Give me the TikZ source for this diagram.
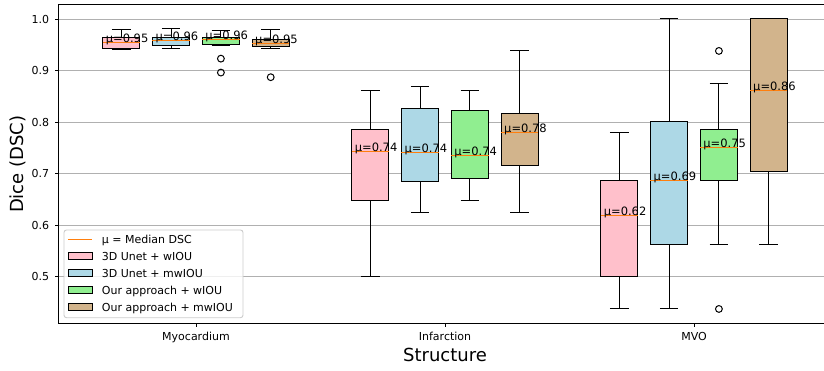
\documentclass[tikz,border=0pt]{standalone}
\usepackage{fontspec}
\setmainfont{DejaVu Sans}

\definecolor{gridgray}{HTML}{B0B0B0}
\definecolor{medorange}{HTML}{FF7F0E}
\definecolor{pinkbox}{HTML}{FFC0CB}
\definecolor{bluebox}{HTML}{ADD8E6}
\definecolor{greenbox}{HTML}{90EE90}
\definecolor{tanbox}{HTML}{D2B48C}
\definecolor{legendedge}{HTML}{CCCCCC}

\begin{document}
\begin{tikzpicture}[
  ticklabel/.style={font=\fontsize{11}{13}\selectfont, inner sep=0pt},
  axislabel/.style={font=\fontsize{18}{21}\selectfont, inner sep=0pt},
  mulabel/.style={font=\fontsize{11.5}{13}\selectfont, inner sep=0pt, anchor=base west},
  legendtext/.style={font=\fontsize{11}{13}\selectfont, inner sep=0pt, anchor=base west},
  spine/.style={black, line width=0.9pt},
  gridline/.style={gridgray, line width=0.9pt},
  whisker/.style={black, line width=1pt},
  boxedge/.style={draw=black, line width=1pt},
  median/.style={medorange, line width=0.8pt},
  flier/.style={draw=black, line width=1pt},
  legendframe/.style={draw=legendedge, line width=0.9pt, fill=white, fill opacity=0.8, rounded corners=2.5pt}
]
  \useasboundingbox (0,0) rectangle (824pt,370pt);

  \begin{scope}[x=249pt, y=515pt, shift={(-53pt,-164pt)}]
  % grid and y ticks
  \foreach \v in {0.5,0.6,0.7,0.8,0.9,1.0} {
    \draw[gridline] (0.448,\v) -- (3.522,\v);
    \draw[spine] (0.434,\v) -- (0.448,\v);
    \node[ticklabel, anchor=east] (ytick\v) at (0.411,\v) {\v};
  }

  % boxes: position / whisker low / q1 / median / q3 / whisker high / colour / label
  \foreach \bx/\wl/\qa/\md/\qb/\wh/\fc/\lab [count=\k] in {
      0.7/0.940/0.943/0.954/0.964/0.980/pinkbox/0.95,
      0.9/0.942/0.948/0.958/0.964/0.981/bluebox/0.96,
      1.1/0.949/0.951/0.960/0.964/0.977/greenbox/0.96,
      1.3/0.942/0.946/0.953/0.9605/0.979/tanbox/0.95,
      1.7/0.500/0.647/0.743/0.786/0.862/pinkbox/0.74,
      1.9/0.625/0.685/0.740/0.827/0.869/bluebox/0.74,
      2.1/0.647/0.691/0.735/0.823/0.861/greenbox/0.74,
      2.3/0.625/0.715/0.780/0.816/0.938/tanbox/0.78,
      2.7/0.437/0.500/0.619/0.687/0.779/pinkbox/0.62,
      2.9/0.437/0.5625/0.687/0.801/1.000/bluebox/0.69,
      3.1/0.5625/0.687/0.750/0.786/0.875/greenbox/0.75,
      3.3/0.5625/0.7035/0.862/1.000/1.000/tanbox/0.86} {
    \draw[whisker] (\bx,\wl) -- (\bx,\qa) (\bx,\qb) -- (\bx,\wh);
    \draw[whisker] (\bx-0.0375,\wl) -- (\bx+0.0375,\wl) (\bx-0.0375,\wh) -- (\bx+0.0375,\wh);
    \filldraw[boxedge, fill=\fc] (\bx-0.075,\qa) rectangle (\bx+0.075,\qb);
    \draw[median] (\bx-0.075,\md) -- (\bx+0.075,\md);
    \node[mulabel] (mu\k) at (\bx-0.063,\md) {μ=\lab};
  }

  % outliers
  \foreach \bx/\v in {1.1/0.923, 1.1/0.896, 1.3/0.887, 3.1/0.938, 3.1/0.437}
    \draw[flier] (\bx,\v) circle [radius=3.4pt];

  % axes
  \draw[spine] (3.522,1.0285) -- (0.448,1.0285) -- (0.448,0.409) -- (3.522,0.409);
  \foreach \gx/\name in {1/Myocardium, 2/Infarction, 3/MVO} {
    \draw[spine] (\gx,0.409) -- (\gx,0.402);
    \node[ticklabel, anchor=base] (xtick\gx) at (\gx,0.3748) {\name};
  }
  \node[axislabel, anchor=base] (xlabel) at (2,0.335) {Structure};
  \node[axislabel, rotate=90] (ylabel) at (0.283,0.718) {Dice (DSC)};
  \end{scope}

  % legend
  \draw[legendframe] (64pt,52.3pt) rectangle (243pt,140pt);
  \draw[median] (68.3pt,131pt) -- (92.3pt,131pt);
  \node[legendtext] (leg0) at (101.7pt,126.7pt) {μ = Median DSC};
  \foreach \fc/\txt [count=\k] in {pinkbox/3D Unet + wIOU, bluebox/3D Unet + mwIOU,
      greenbox/Our approach + wIOU, tanbox/Our approach + mwIOU} {
    \filldraw[boxedge, fill=\fc] (68.3pt,131pt-17*\k pt-3.4pt) rectangle (92.3pt,131pt-17*\k pt+3.4pt);
    \node[legendtext] (leg\k) at (101.7pt,126.7pt-17*\k pt) {\txt};
  }
\end{tikzpicture}
\end{document}
